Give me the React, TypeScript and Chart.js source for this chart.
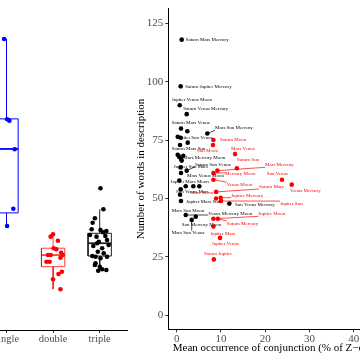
import React, { useEffect, useRef } from 'react';
import { Chart, registerables } from 'chart.js';

Chart.register(...registerables);

const FONT = "'Liberation Serif', 'Times New Roman', Times, serif";

// ---------- Left panel: box plot by conjunction type ----------
const categories = ['single', 'double', 'triple'];
const categoryPos = [1, 2, 3];
const boxLow = [37.6, 10.9, 18.7];
const boxQ1 = [43.1, 20.4, 24.9];
const boxMedian = [70.1, 25.3, 30.3];
const boxQ3 = [82.8, 28.2, 34.5];
const boxHigh = [116.6, 34.1, 44.6];
const boxColors = ['#0000FF', 'rgba(255,0,0,0.75)', '#222222'];
const pointColors = ['#0000FF', '#FF0000', '#000000'];

const singleX = [0.949, 1.013, 1.061, 1.175, 1.146, 1.013];
const singleY = [116.55, 82.64, 82.05, 69.98, 44.89, 37.58];

const doubleX = [1.947, 1.998, 2.103, 2.011, 2.068, 2.173, 2.209, 1.892, 1.947, 2.158, 1.857, 1.926, 1.998, 2.116, 2.188, 2.158];
const doubleY = [33.07, 34.08, 31.38, 28.17, 27.75, 26.31, 25.34, 25.34, 25.34, 24.2, 22.51, 22.51, 15.08, 17.31, 18.29, 10.85];

const tripleX = [3.017, 3.08, 2.897, 2.848, 2.827, 3.017, 3.143, 3.074, 2.791, 2.932, 3.122, 3.158, 2.981, 2.947, 3.192, 2.863, 3.053, 2.96, 3.086, 2.842, 2.911, 3.017, 3.158, 2.911, 2.897, 3.002, 2.968, 3.053, 3.143];
const tripleY = [53.5, 44.64, 40.84, 38.98, 36.19, 35.9, 35.47, 34.92, 33.78, 33.07, 33.36, 31.67, 30.95, 30.28, 29.56, 29.14, 28.17, 26.73, 26.06, 24.92, 24.62, 23.94, 24.62, 21.83, 21.11, 20.4, 18.71, 19.3, 19.0];

// ---------- Right panel: scatter with repelled labels ----------
const blackX = [1.13, 0.9, 0.68, 2.26, 0.97, 2.4, 6.92, 0.23, 0.9, 0.75, 2.49, 0.23, 0.52, 0.97, 1.13, 1.49, 0.9, 2.26, 0.97, 0.59, 2.04, 3.76, 5.11, 0.9, 0.75, 0.97, 11.9, 2.04, 4.3, 3.39];
const blackY = [118.0, 98.0, 89.9, 86.1, 79.9, 78.8, 77.8, 76.4, 76.0, 72.9, 73.9, 68.7, 67.9, 66.9, 66.2, 68.3, 63.3, 61.9, 60.9, 57.7, 55.2, 55.2, 55.2, 53.9, 51.6, 48.9, 47.8, 42.9, 42.2, 40.8];

const blackLabels = ['Saturn Mars Mercury', 'Saturn Jupiter Mercury', 'Jupiter Venus Moon', 'Saturn Venus Mercury', 'Saturn Mars Venus', 'Mars Sun Mercury', 'Jupiter Sun Venus', 'Saturn Mars Sun', 'Mars Mercury Moon', 'Jupiter Sun Mars', 'Saturn Sun Venus', 'Mars Venus Moon', 'Jupiter Mars Moon', 'Sun Venus Mars', 'Jupiter Mars Sun', 'Sun Venus Mercury', 'Mars Sun Moon', 'Venus Mercury Moon', 'Sun Mercury Moon', 'Mars Sun Venus'];
const blackLabelPtX = [1.13, 0.9, 0.68, 2.26, 0.97, 6.92, 0.9, 0.75, 0.97, 0.9, 2.26, 0.97, 0.59, 0.9, 0.97, 11.9, 2.04, 2.04, 4.3, 3.39];
const blackLabelPtY = [118.0, 98.0, 89.9, 86.1, 79.9, 77.8, 76.0, 72.9, 66.9, 63.3, 61.9, 60.9, 57.7, 53.9, 48.9, 47.8, 42.9, 42.9, 42.2, 40.8];
const blackLabelX = [2.04, 1.95, -1.13, 1.49, -1.13, 8.67, -0.05, -1.13, 1.49, -0.66, 4.14, 2.33, -1.4, -0.16, 2.1, 13.19, -1.13, 7.15, 1.13, -1.13];
const blackLabelY = [117.95, 97.97, 92.19, 88.26, 82.35, 80.24, 76.01, 71.49, 67.57, 63.64, 64.61, 59.84, 57.35, 52.87, 48.69, 47.17, 44.64, 43.29, 38.73, 35.18];

const redX = [8.3, 8.2, 13.2, 13.6, 9.2, 8.3, 23.8, 26.0, 8.3, 8.9, 8.9, 9.95, 10.0, 8.3, 9.3, 8.3, 9.8, 8.4];
const redY = [75.0, 72.9, 69.0, 62.9, 61.9, 60.9, 58.0, 55.9, 58.0, 52.8, 50.0, 50.3, 48.9, 41.3, 41.3, 38.0, 33.1, 23.9];
const redLabels = ['Saturn Moon', 'Sun Moon', 'Mars Venus', 'Saturn Sun', 'Mars Mercury', 'Mercury Moon', 'Sun Venus', 'Venus Mercury', 'Venus Moon', 'Saturn Mars', 'Mars Moon', 'Jupiter Mercury', 'Jupiter Sun', 'Jupiter Moon', 'Saturn Mercury', 'Jupiter Mars', 'Jupiter Venus', 'Saturn Jupiter'];
const redLabelX = [9.8, 4.59, 12.29, 13.64, 19.98, 10.93, 20.36, 25.63, 11.31, 18.62, 3.01, 12.29, 23.35, 18.46, 11.31, 7.53, 7.92, 6.18];
const redLabelY = [75.3, 70.52, 71.37, 66.43, 64.4, 60.52, 60.39, 53.34, 55.87, 55.11, 52.58, 51.1, 47.8, 43.41, 39.27, 34.76, 30.53, 26.31];

const xTicks = [0, 10, 20, 30, 40];
const yTicks = [0, 25, 50, 75, 100, 125];

const toPts = (xs: number[], ys: number[]) => xs.map((x, i) => ({ x, y: ys[i] }));

function buildBoxDatasets() {
  const w = 0.25;
  const sets: any[] = [];
  categoryPos.forEach((c, i) => {
    const col = boxColors[i];
    const base = { type: 'scatter', showLine: true, pointRadius: 0, borderColor: col, borderWidth: 1, fill: false };
    sets.push({ ...base, data: [{ x: c - w, y: boxQ1[i] }, { x: c + w, y: boxQ1[i] }, { x: c + w, y: boxQ3[i] }, { x: c - w, y: boxQ3[i] }, { x: c - w, y: boxQ1[i] }] });
    sets.push({ ...base, borderWidth: 1.8, data: [{ x: c - w, y: boxMedian[i] }, { x: c + w, y: boxMedian[i] }] });
    sets.push({ ...base, data: [{ x: c, y: boxQ3[i] }, { x: c, y: boxHigh[i] }] });
    sets.push({ ...base, data: [{ x: c, y: boxQ1[i] }, { x: c, y: boxLow[i] }] });
  });
  return sets;
}

function drawLabelGroup(chart: any, texts: string[], px: number[], py: number[], lx: number[], ly: number[], color: string) {
  const { ctx, scales, chartArea } = chart;
  const xs = scales.x;
  const ys = scales.y;
  ctx.save();
  ctx.beginPath();
  ctx.rect(chartArea.left, chartArea.top, chartArea.right - chartArea.left, chartArea.bottom - chartArea.top);
  ctx.clip();
  ctx.font = `5px ${FONT}`;
  ctx.textBaseline = 'middle';
  ctx.textAlign = 'left';
  ctx.fillStyle = color;
  ctx.strokeStyle = color;
  ctx.lineWidth = 0.7;
  texts.forEach((t, i) => {
    const ppx = xs.getPixelForValue(px[i]);
    const ppy = ys.getPixelForValue(py[i]);
    const tx = xs.getPixelForValue(lx[i]);
    const ty = ys.getPixelForValue(ly[i]);
    const w = ctx.measureText(t).width;
    const h = 5;
    const cx = Math.min(Math.max(ppx, tx), tx + w);
    const cy = Math.min(Math.max(ppy, ty - h / 2), ty + h / 2);
    const d = Math.hypot(cx - ppx, cy - ppy);
    if (d > 7) {
      ctx.beginPath();
      ctx.moveTo(ppx, ppy);
      ctx.lineTo(cx, cy);
      ctx.stroke();
    }
    ctx.fillText(t, tx, ty);
  });
  ctx.restore();
}

const labelPlugin = {
  id: 'repelLabels',
  afterDatasetsDraw(chart: any) {
    drawLabelGroup(chart, blackLabels, blackLabelPtX, blackLabelPtY, blackLabelX, blackLabelY, '#000000');
    drawLabelGroup(chart, redLabels, redX, redY, redLabelX, redLabelY, '#FF0000');
  },
};

export default function App() {
  const leftRef = useRef<HTMLCanvasElement>(null);
  const rightRef = useRef<HTMLCanvasElement>(null);

  useEffect(() => {
    const axisGrid = { display: true, drawOnChartArea: false, drawTicks: true, tickLength: 3, color: '#333333', lineWidth: 1 };
    const axisBorder = { display: true, color: '#000000', width: 1 };
    const tickFont = { family: FONT, size: 11 };

    // left canvas spans page x -100..360; its plot area ends at page x 127
    const left = new Chart(leftRef.current as HTMLCanvasElement, {
      type: 'scatter',
      data: {
        datasets: [
          { data: toPts(singleX, singleY), pointRadius: 2.3, backgroundColor: pointColors[0], borderWidth: 0 },
          { data: toPts(doubleX, doubleY), pointRadius: 2.3, backgroundColor: pointColors[1], borderWidth: 0 },
          { data: toPts(tripleX, tripleY), pointRadius: 2.3, backgroundColor: pointColors[2], borderWidth: 0 },
          ...buildBoxDatasets(),
        ] as any,
      },
      options: {
        animation: false,
        responsive: false,
        events: [],
        layout: { padding: { top: 4, right: 233, left: 0, bottom: 0 } },
        plugins: { legend: { display: false }, tooltip: { enabled: false } },
        scales: {
          x: {
            type: 'linear',
            min: -1.2,
            max: 3.586,
            afterBuildTicks: (s: any) => { s.ticks = categoryPos.map((v) => ({ value: v })); },
            afterFit: (s: any) => { s.height = 30; },
            ticks: {
              callback: (v: any) => { const i = categoryPos.indexOf(Number(v)); return i >= 0 ? categories[i] : ''; },
              font: { family: FONT, size: 10.5 },
              color: '#4D4D4D',
              padding: 0,
              autoSkip: false,
              maxRotation: 0,
            },
            grid: axisGrid,
            border: axisBorder,
          },
          y: { display: false, min: -6.33, max: 131.3, grid: { display: false }, border: { display: false } },
        },
      } as any,
    });

    // right canvas spans page x 0..400; its y axis box is 168.3 px wide so the plot starts at page x 168.3
    const right = new Chart(rightRef.current as HTMLCanvasElement, {
      type: 'scatter',
      data: {
        datasets: [
          { data: toPts(redX, redY), pointRadius: 2.3, backgroundColor: '#FF0000', borderWidth: 0 },
          { data: toPts(blackX, blackY), pointRadius: 2.3, backgroundColor: '#000000', borderWidth: 0 },
        ],
      },
      options: {
        animation: false,
        responsive: false,
        events: [],
        layout: { padding: { top: 4, right: 8.3, left: 0, bottom: 0 } },
        plugins: { legend: { display: false }, tooltip: { enabled: false } },
        scales: {
          x: {
            type: 'linear',
            min: -1.9,
            max: 48.6,
            afterBuildTicks: (s: any) => { s.ticks = xTicks.map((v) => ({ value: v })); },
            afterFit: (s: any) => { s.height = 30.7; },
            ticks: { font: tickFont, color: '#4D4D4D', padding: 0, autoSkip: false, maxRotation: 0 },
            grid: axisGrid,
            border: axisBorder,
            title: {
              display: true,
              text: 'Mean occurrence of conjunction (% of Z\u2212codes)',
              font: { family: FONT, size: 11 },
              color: '#000000',
              padding: { top: 0, bottom: 5 },
            },
          },
          y: {
            type: 'linear',
            min: -6.04,
            max: 131.3,
            afterBuildTicks: (s: any) => { s.ticks = yTicks.map((v) => ({ value: v })); },
            afterFit: (s: any) => { s.width = 168.3; },
            ticks: { font: tickFont, color: '#4D4D4D', padding: 2 },
            grid: axisGrid,
            border: axisBorder,
            title: {
              display: true,
              text: 'Number of words in description',
              font: { family: FONT, size: 11 },
              color: '#000000',
              padding: { top: 135, bottom: 0 },
            },
          },
        },
      } as any,
      plugins: [labelPlugin],
    });

    return () => {
      left.destroy();
      right.destroy();
    };
  }, []);

  return (
    <div style={{ position: 'fixed', left: 0, top: 0, width: 360, height: 360, overflow: 'hidden', background: '#fff' }}>
      <canvas ref={leftRef} width={460} height={360} style={{ position: 'absolute', left: -100, top: 0, width: 460, height: 360 }} />
      <canvas ref={rightRef} width={400} height={360} style={{ position: 'absolute', left: 0, top: 0, width: 400, height: 360 }} />
    </div>
  );
}
